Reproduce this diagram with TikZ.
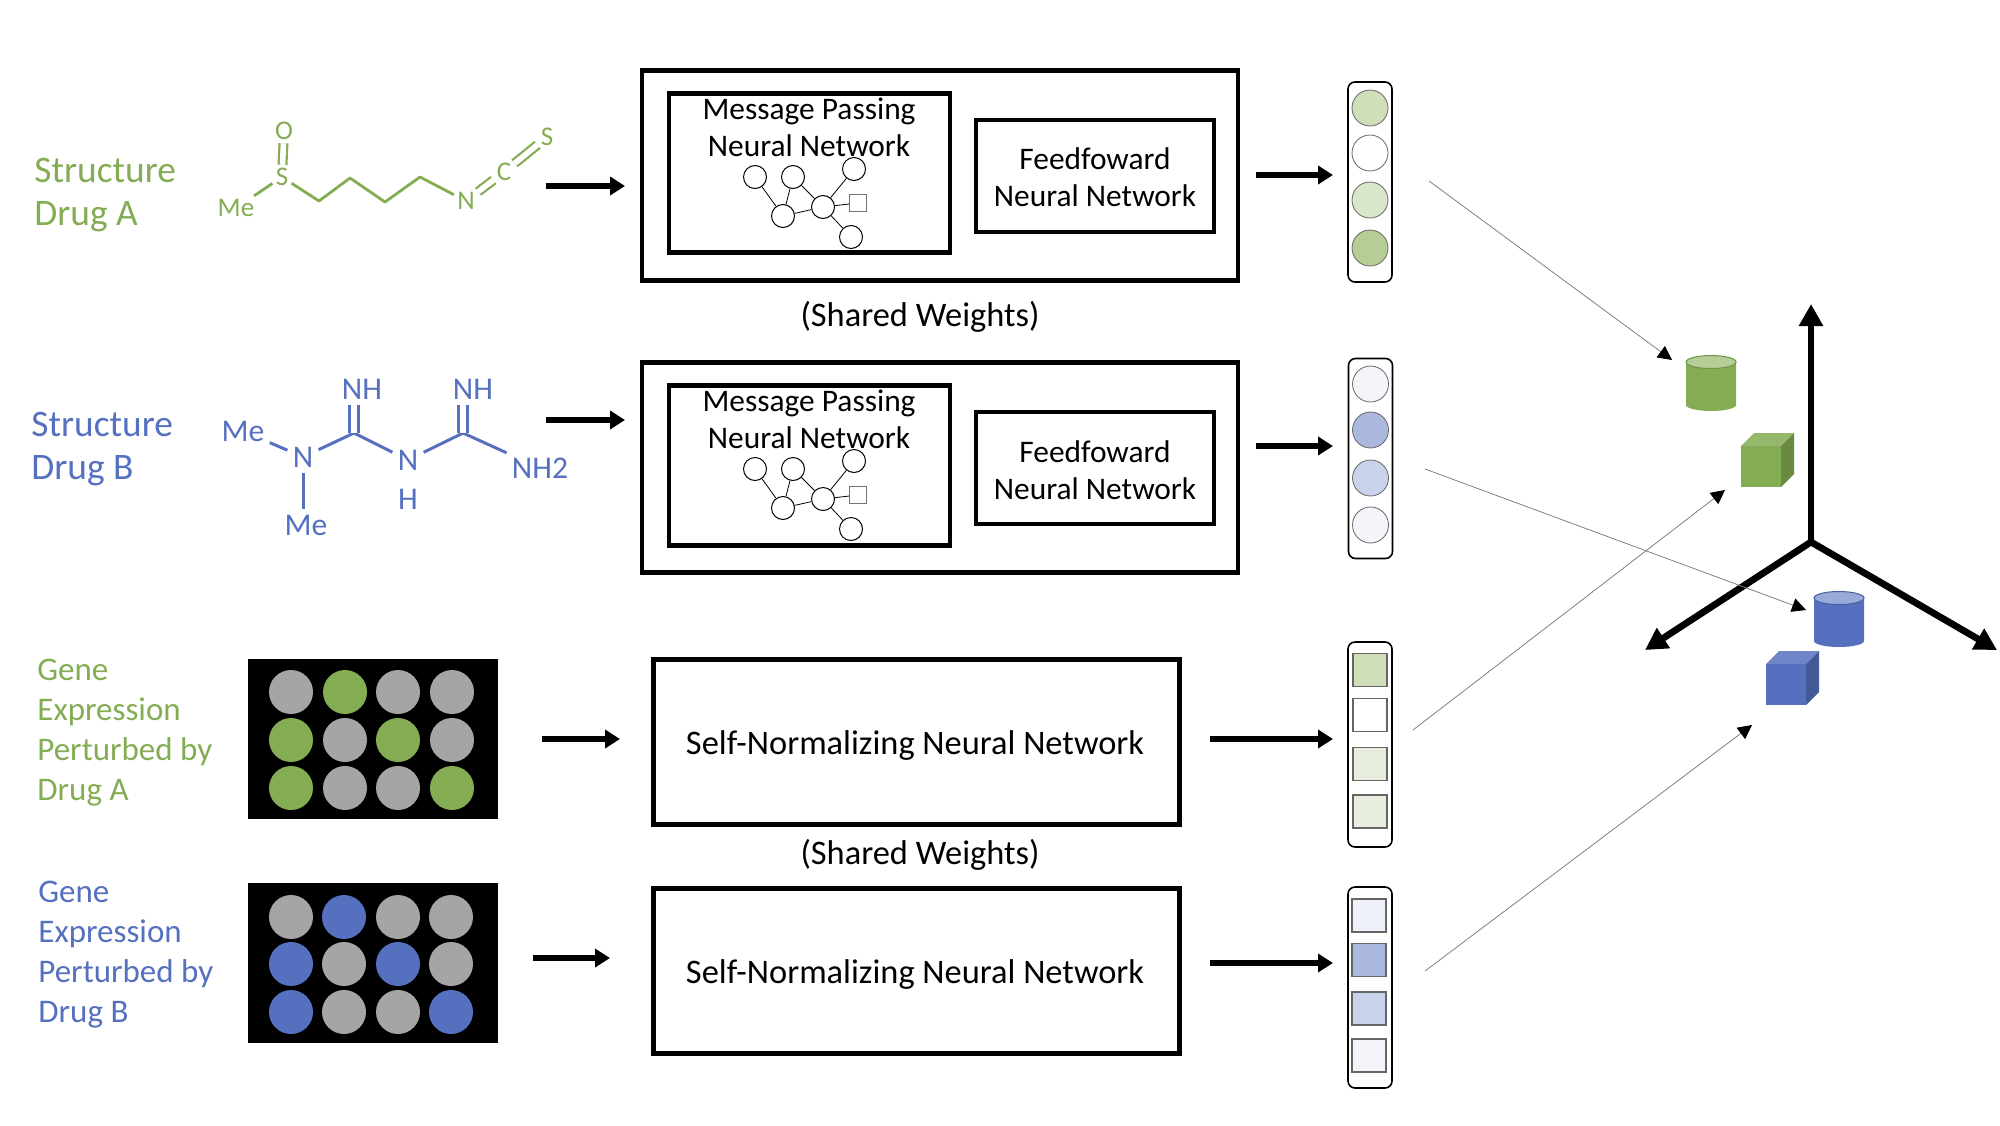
\documentclass[tikz,border=0pt]{standalone}
\usepackage{fontspec}
\setmainfont{Carlito}
\usetikzlibrary{arrows.meta}
\definecolor{drugA}{HTML}{84AC53}
\definecolor{drugB}{HTML}{5570BE}
\definecolor{wellgray}{HTML}{A5A5A5}
\definecolor{gA1}{HTML}{D0DFBA}
\definecolor{gA2}{HTML}{DAE6CC}
\definecolor{gA3}{HTML}{B5CE96}
\definecolor{gA4}{HTML}{E7EEDD}
\definecolor{bA1}{HTML}{EEF1F9}
\definecolor{bA2}{HTML}{ACB9DF}
\definecolor{bA3}{HTML}{C9D2EB}
\definecolor{bA4}{HTML}{F3F5FA}
\tikzset{
  titletext/.style={font=\fontsize{18.7}{21.5}\selectfont,align=left,anchor=west,inner sep=0pt},
  genetext/.style={font=\fontsize{16.5}{20}\selectfont,align=left,anchor=west,inner sep=0pt},
  boxtext/.style={font=\fontsize{15.7}{18.5}\selectfont,align=center,inner sep=0pt},
  widetext/.style={font=\fontsize{17.2}{20}\selectfont,align=center,inner sep=0pt},
  netbox/.style={draw,line width=2.4pt,minimum width=#1,inner sep=0pt},
  flow/.style={-{Triangle[length=7.5pt,width=9pt]},line width=2.8pt},
  thin arrow/.style={-{Triangle[length=7pt,width=7pt,color=black]},line width=0.4pt,color=black!50},
  axis/.style={-{Triangle[length=11pt,width=11.5pt]},line width=3.4pt},
  pill/.style={draw,line width=0.8pt,rounded corners=3.5pt,minimum width=22pt,inner sep=0pt},
  dotcell/.style={circle,draw=black!60,line width=0.4pt,minimum size=18pt,inner sep=0pt},
  sqcell/.style={rectangle,draw=black!60,line width=0.6pt,minimum width=17pt,minimum height=16.5pt,inner sep=0pt},
  well/.style={circle,minimum size=22pt,inner sep=0pt},
  plate/.style={fill=black,minimum width=125pt,minimum height=80pt,inner sep=0pt},
  gnode/.style={circle,draw,line width=0.5pt,minimum size=11.5pt,inner sep=0pt},
  gsq/.style={rectangle,draw=black!55,line width=0.5pt,fill=white,minimum size=8.5pt,inner sep=0pt},
  atomA/.style={font=\fontsize{13.5}{15}\selectfont,color=drugA,inner sep=1.5pt},
  atomB/.style={font=\fontsize{15.8}{17}\selectfont,color=drugB,inner sep=2.5pt},
}
% graph inside a message passing box
\newcommand{\mpgraph}[2]{
\node[gnode](#1g1) at (755,#2+177){};
\node[gnode](#1g2) at (793,#2+177){};
\node[gnode](#1g3) at (854,#2+169){};
\node[gnode](#1g4) at (783,#2+216){};
\node[gnode](#1g5) at (823,#2+207){};
\node[gnode](#1g6) at (851,#2+237){};
\node[gsq](#1g7) at (858,#2+203){};
\draw[line width=0.4pt] (#1g1) -- (#1g4);
\draw[line width=0.4pt] (#1g2) -- (#1g4);
\draw[line width=0.4pt] (#1g2) -- (#1g5);
\draw[line width=0.4pt] (#1g3) -- (#1g5);
\draw[line width=0.4pt] (#1g4) -- (#1g5);
\draw[line width=0.4pt] (#1g5) -- (#1g7);
\draw[line width=0.4pt] (#1g5) -- (#1g6);
}
% left, top, colour
\newcommand{\drawcyl}[3]{
\fill[#3] (#1,#2+7) -- (#1,#2+50) arc[start angle=180,end angle=0,x radius=25,y radius=6] -- (#1+50,#2+7) -- cycle;
\draw[#3!85!black,line width=0.5pt,fill=#3!60!white] (#1+25,#2+7) ellipse[x radius=25,y radius=6.5];
}
\newcommand{\drawcube}[3]{
\fill[#3] (#1,#2+13) rectangle (#1+40,#2+54);
\fill[#3!85!white] (#1,#2+13) -- (#1+13,#2) -- (#1+53,#2) -- (#1+40,#2+13) -- cycle;
\fill[#3!80!black] (#1+40,#2+13) -- (#1+53,#2) -- (#1+53,#2+41) -- (#1+40,#2+54) -- cycle;
}
\begin{document}
\begin{tikzpicture}[x=0.5pt,y=-0.5pt]
\useasboundingbox (0,0) rectangle (2000,1125);
%labels
\node[titletext,color=drugA](titleA) at (34,195){Structure\\Drug A};
\node[titletext,color=drugB](titleB) at (31,449){Structure\\Drug B};
\node[genetext,color=drugA](geneA) at (37,733){Gene\\Expression\\Perturbed by\\Drug A};
\node[genetext,color=drugB](geneB) at (38,955){Gene\\Expression\\Perturbed by\\Drug B};
%molecule A
\node[atomA](meA) at (236,208){Me};
\node[atomA](sA) at (282,177){S};
\node[atomA](oA) at (284,131){O};
\node[atomA](nA) at (466,201){N};
\node[atomA](cA) at (504,172){C};
\node[atomA](stA) at (547,137){S};
\coordinate (a1) at (319,201);
\coordinate (a2) at (350,178);
\coordinate (a3) at (385,202);
\coordinate (a4) at (420,177);
\draw[drugA,line width=1.4pt] (meA) -- (sA);
\draw[drugA,line width=1.4pt,line join=round] (sA) -- (a1) -- (a2) -- (a3) -- (a4) -- (nA);
\draw[drugA,line width=1.1pt,double=white,double distance=2.8pt] (sA) -- (oA);
\draw[drugA,line width=1.1pt,double=white,double distance=2.8pt] (nA) -- (cA);
\draw[drugA,line width=1.1pt,double=white,double distance=2.8pt] (cA) -- (stA);
%molecule B
\node[atomB](meB) at (243,431){Me};
\node[atomB](meC) at (306,525){Me};
\node[atomB](nB) at (303,457){N};
\node[atomB](nhB) at (362,389){NH};
\node[atomB](nC) at (408,460){N};
\node[atomB,inner sep=0pt](hC) at (408,499){H};
\node[atomB](nhC) at (473,389){NH};
\node[atomB](ntB) at (540,468){NH2};
\coordinate (b1) at (354,433);
\coordinate (b2) at (463,433);
\draw[drugB,line width=1.5pt] (meB) -- (nB);
\draw[drugB,line width=1.5pt] (nB) -- (nB|-meC.north);
\draw[drugB,line width=1.5pt,line join=round] (nB) -- (b1) -- (nC);
\draw[drugB,line width=1.5pt,line join=round] (nC) -- (b2) -- (ntB);
\draw[drugB,line width=1.2pt,double=white,double distance=3.2pt] (b1) -- (b1|-nhB.south);
\draw[drugB,line width=1.2pt,double=white,double distance=3.2pt] (b2) -- (b2|-nhC.south);
%well plates
\node[plate](plateA) at (373,739){};
\node[plate](plateB) at (372.5,963){};
\foreach \xx/\col in {291/wellgray,345/drugA,398/wellgray,452/wellgray} \node[well,fill=\col](wa1\xx) at (\xx,692){};
\foreach \xx/\col in {291/drugA,345/wellgray,398/drugA,452/wellgray} \node[well,fill=\col](wa2\xx) at (\xx,740){};
\foreach \xx/\col in {291/drugA,345/wellgray,398/wellgray,452/drugA} \node[well,fill=\col](wa3\xx) at (\xx,788){};
\foreach \xx/\col in {291/wellgray,344/drugB,398/wellgray,451/wellgray} \node[well,fill=\col](wb1\xx) at (\xx,917){};
\foreach \xx/\col in {291/drugB,344/wellgray,398/drugB,451/wellgray} \node[well,fill=\col](wb2\xx) at (\xx,964){};
\foreach \xx/\col in {291/drugB,344/wellgray,398/wellgray,451/drugB} \node[well,fill=\col](wb3\xx) at (\xx,1012){};
%network boxes
\node[netbox=298pt,minimum height=105pt](outerA) at (940,175.5){};
\node[netbox=140.5pt,minimum height=79.5pt](mpA) at (809.5,173){};
\node[netbox=119pt,minimum height=56pt](ffA) at (1095,176){};
\node[boxtext](mpAtext) at (809,127.5){Message Passing\\Neural Network};
\node[boxtext](ffAtext) at (1095,177){Feedfoward\\Neural Network};
\mpgraph{A}{0}
\node[widetext](sharedA) at (920,317){(Shared Weights)};
\node[netbox=298pt,minimum height=105pt](outerB) at (940,467.5){};
\node[netbox=140.5pt,minimum height=80pt](mpB) at (809.5,465.5){};
\node[netbox=119pt,minimum height=56pt](ffB) at (1095,468){};
\node[boxtext](mpBtext) at (809,419.5){Message Passing\\Neural Network};
\node[boxtext](ffBtext) at (1095,470){Feedfoward\\Neural Network};
\mpgraph{B}{292}
\node[netbox=263pt,minimum height=82.5pt](snnA) at (916.5,742){};
\node[widetext](snnAtext) at (915,745.5){Self-Normalizing Neural Network};
\node[widetext](sharedB) at (920,854.5){(Shared Weights)};
\node[netbox=263pt,minimum height=82.5pt](snnB) at (916.5,971){};
\node[widetext](snnBtext) at (915,974.5){Self-Normalizing Neural Network};
%flow arrows
\coordinate (fa1) at (546,186);
\coordinate (fa2) at (625,186);
\draw[flow] (fa1) -- (fa2);
\coordinate (fb1) at (546,420);
\coordinate (fb2) at (625,420);
\draw[flow] (fb1) -- (fb2);
\coordinate (fc1) at (542,739);
\coordinate (fc2) at (620,739);
\draw[flow] (fc1) -- (fc2);
\coordinate (fd1) at (533,958);
\coordinate (fd2) at (610,958);
\draw[flow] (fd1) -- (fd2);
\coordinate (ga) at (1333,175);
\draw[flow] (outerA.east|-ga)++(16,0) -- (ga);
\coordinate (gb) at (1333,446);
\draw[flow] (outerB.east|-gb)++(16,0) -- (gb);
\coordinate (gc) at (1333,739);
\draw[flow] (snnA.east|-gc)++(28,0) -- (gc);
\coordinate (gd) at (1333,963);
\draw[flow] (snnB.east|-gd)++(28,0) -- (gd);
%vectors
\node[pill,minimum height=100pt](vecA) at (1370,182){};
\foreach \yy/\col [count=\i] in {108/gA1,153/white,200/gA2,248/gA3} \node[dotcell,fill=\col](vecA\i) at (1370,\yy){};
\node[pill,minimum height=100pt](vecB) at (1370.5,458.5){};
\foreach \yy/\col [count=\i] in {384/bA4,430/bA2,478/bA3,525/bA4} \node[dotcell,fill=\col](vecB\i) at (1370.5,\yy){};
\node[pill,minimum height=102.5pt](vecC) at (1370,744.5){};
\foreach \yy/\col [count=\i] in {670/gA1,715/white,764/gA4,811.5/gA4} \node[sqcell,fill=\col](vecC\i) at (1370,\yy){};
\node[pill,minimum height=100.5pt](vecD) at (1370,987.5){};
\foreach \yy/\col [count=\i] in {915.5/bA1,960/bA2,1008.5/bA3,1055.5/bA4} \node[sqcell,fill=\col](vecD\i) at (1369,\yy){};
%latent space
\coordinate (origin) at (1811,542);
\coordinate (axisup) at (1811,304);
\coordinate (axisleft) at (1645,650);
\coordinate (axisright) at (1997,650);
\draw[axis] (origin) -- (axisup);
\draw[axis] (origin) -- (axisleft);
\draw[axis] (origin) -- (axisright);
\drawcyl{1686}{355}{drugA}
\drawcyl{1814}{591}{drugB}
\drawcube{1741}{433}{drugA}
\drawcube{1766}{651}{drugB}
\coordinate (ta1) at (1429,181);
\coordinate (ta2) at (1672,360);
\draw[thin arrow] (ta1) -- (ta2);
\coordinate (tb1) at (1425,469);
\coordinate (tb2) at (1806,610);
\draw[thin arrow] (tb1) -- (tb2);
\coordinate (tc1) at (1413,730);
\coordinate (tc2) at (1725,490);
\draw[thin arrow] (tc1) -- (tc2);
\coordinate (td1) at (1425,971);
\coordinate (td2) at (1752,725);
\draw[thin arrow] (td1) -- (td2);
\end{tikzpicture}
\end{document}
